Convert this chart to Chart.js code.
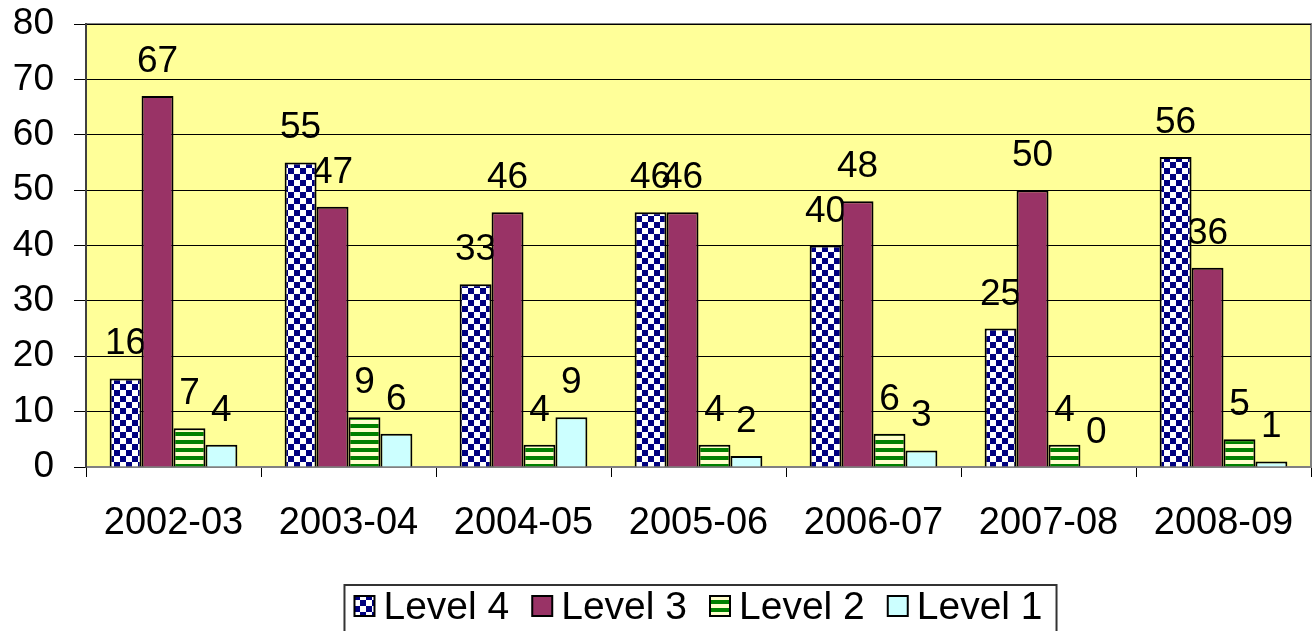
<!DOCTYPE html>
<html>
<head>
<meta charset="utf-8">
<script src="https://cdn.jsdelivr.net/npm/chart.js@4/dist/chart.umd.min.js"></script>
<style>
  html, body { margin: 0; padding: 0; background: #fff; }
  #wrap { width: 1314px; height: 631px; }
</style>
</head>
<body>
<div id="wrap"><canvas id="chart" width="1314" height="631"></canvas></div>
<script>
const years = ['2002-03', '2003-04', '2004-05', '2005-06', '2006-07', '2007-08', '2008-09']
const level4 = [16, 55, 33, 46, 40, 25, 56]
const level3 = [67, 47, 46, 46, 48, 50, 36]
const level2 = [7, 9, 4, 4, 6, 4, 5]
const level1 = [4, 6, 9, 2, 3, 0, 1]
const yTicks = [0, 10, 20, 30, 40, 50, 60, 70, 80]

const FONT = '"Liberation Sans", Arial, sans-serif'

// little tiles for the Excel style fills
function checker() {
  const c = document.createElement('canvas')
  c.width = 12; c.height = 12
  const g = c.getContext('2d')
  g.fillStyle = '#ffffff'
  g.fillRect(0, 0, 12, 12)
  g.fillStyle = '#000080'
  g.fillRect(0, 0, 6, 6)
  g.fillRect(6, 6, 6, 6)
  return g.createPattern(c, 'repeat')
}

function stripes() {
  const c = document.createElement('canvas')
  c.width = 8; c.height = 8
  const g = c.getContext('2d')
  g.fillStyle = '#ffffcc'
  g.fillRect(0, 0, 8, 8)
  g.fillStyle = '#008000'
  g.fillRect(0, 0, 8, 4)
  return g.createPattern(c, 'repeat')
}

const fills = [checker(), '#993366', stripes(), '#ccffff']

const plotBg = {
  id: 'plotBg',
  beforeDraw(chart) {
    const { ctx, chartArea: a } = chart
    ctx.save()
    ctx.fillStyle = '#ffff99'
    ctx.fillRect(a.left, a.top, a.right - a.left, a.bottom - a.top)
    ctx.strokeStyle = '#808080'
    ctx.lineWidth = 2
    ctx.beginPath()
    ctx.moveTo(a.left, a.top)
    ctx.lineTo(a.right, a.top)
    ctx.lineTo(a.right, a.bottom)
    ctx.stroke()
    ctx.restore()
  }
}

// value labels sit under the bars, like the original
const valueLabels = {
  id: 'valueLabels',
  beforeDatasetsDraw(chart) {
    const ctx = chart.ctx
    ctx.save()
    ctx.font = '37px ' + FONT
    ctx.fillStyle = '#000'
    ctx.textAlign = 'center'
    ctx.textBaseline = 'alphabetic'
    chart.data.datasets.forEach((ds, i) => {
      chart.getDatasetMeta(i).data.forEach((bar, j) => {
        ctx.fillText(String(ds.data[j]), bar.x, bar.y - 24)
      })
    })
    ctx.restore()
  }
}

const boxLegend = {
  id: 'boxLegend',
  afterDraw(chart) {
    const { ctx, chartArea: a } = chart
    ctx.save()
    ctx.font = '39px ' + FONT
    ctx.textBaseline = 'middle'
    const box = 20, gapText = 9, gapItem = 23
    const items = chart.data.datasets.map(ds => ({ ds, w: ctx.measureText(ds.label).width }))
    let total = 0
    items.forEach((it, i) => { total += box + gapText + it.w + (i ? gapItem : 0) })
    let x = (a.left + a.right) / 2 - total / 2
    const cy = 606
    ctx.strokeStyle = '#333'
    ctx.lineWidth = 2
    ctx.strokeRect(x - 10, 585, total + 24, 60)
    items.forEach(it => {
      ctx.fillStyle = it.ds.backgroundColor
      ctx.fillRect(x, cy - box / 2, box, box)
      ctx.lineWidth = 2
      ctx.strokeStyle = '#000'
      ctx.strokeRect(x, cy - box / 2, box, box)
      ctx.fillStyle = '#000'
      ctx.fillText(it.ds.label, x + box + gapText, cy + 2)
      x += box + gapText + it.w + gapItem
    })
    ctx.restore()
  }
}

const series = [level4, level3, level2, level1]
const names = ['Level 4', 'Level 3', 'Level 2', 'Level 1']

new Chart(document.getElementById('chart'), {
  type: 'bar',
  data: {
    labels: years,
    datasets: series.map((vals, i) => ({
      label: names[i],
      data: vals,
      backgroundColor: fills[i],
      borderColor: '#000',
      borderWidth: 2,
      borderSkipped: 'start',
      categoryPercentage: 0.73,
      barPercentage: 1
    }))
  },
  options: {
    responsive: false,
    animation: false,
    layout: { padding: { top: 24, right: 3, bottom: 0, left: 0 } },
    plugins: { legend: { display: false }, tooltip: { enabled: false } },
    scales: {
      x: {
        afterFit(s) { s.height = 164; s.paddingLeft = 0; s.paddingRight = 0 },
        grid: { offset: true, drawOnChartArea: false, tickLength: 10, color: '#000', lineWidth: 1 },
        border: { color: '#808080', width: 2 },
        ticks: { color: '#000', padding: 24, font: { family: FONT, size: 38 } }
      },
      y: {
        min: 0,
        max: 80,
        afterFit(s) { s.width = 86; s.paddingTop = 0; s.paddingBottom = 0 },
        afterBuildTicks(s) { s.ticks = yTicks.map(v => ({ value: v })) },
        grid: { color: '#000', lineWidth: 1, tickLength: 12 },
        border: { color: '#404040', width: 2 },
        ticks: { color: '#000', padding: 20, font: { family: FONT, size: 37 } }
      }
    }
  },
  plugins: [plotBg, valueLabels, boxLegend]
})
</script>
</body>
</html>
